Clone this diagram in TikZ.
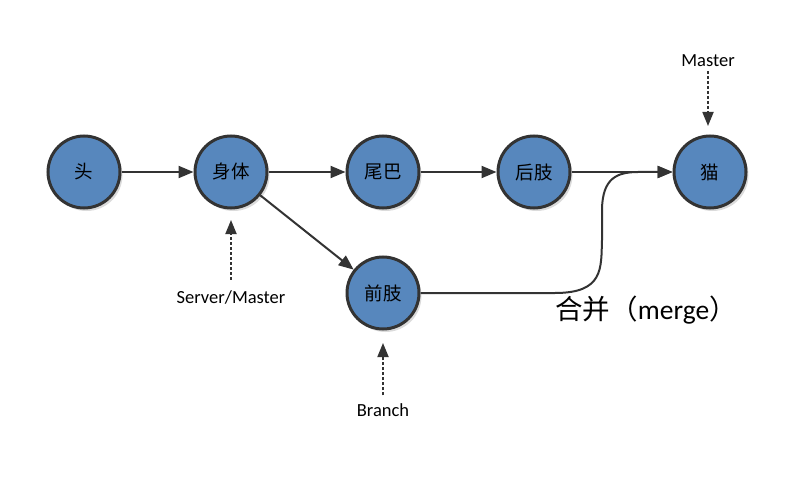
\documentclass[tikz,border=0pt]{standalone}
\usepackage{fontspec}
\setmainfont{Carlito}
\newfontfamily\cjk{Noto Sans CJK SC}
\usetikzlibrary{arrows.meta,shadows}
\definecolor{nodeblue}{HTML}{5787BD}
\definecolor{edgegray}{HTML}{333333}
\tikzset{
  commit/.style={circle,draw=edgegray,line width=3pt,fill=nodeblue,minimum size=72pt,inner sep=0pt,
    font=\cjk\fontsize{18.5}{18.5}\selectfont,
    drop shadow={shadow xshift=2.5pt,shadow yshift=-3pt,fill=black!20,opacity=0.7}},
  flow/.style={draw=edgegray,line width=2pt,-{Triangle[length=15pt,width=12pt]}},
  pointer/.style={draw=edgegray,line width=1.8pt,dash pattern=on 3pt off 2pt,-{Triangle[length=14pt,width=11pt]}},
  lbl/.style={font=\fontsize{18.5}{18.5}\selectfont,inner sep=0pt}
}
\begin{document}
\begin{tikzpicture}[x=1pt,y=-1pt]
\useasboundingbox (0,0) rectangle (800,481);
\node[commit] (tou) at (84,172) {头};
\node[commit] (shen) at (231,172) {身体};
\node[commit] (wei) at (383,172) {尾巴};
\node[commit] (hou) at (534,172) {后肢};
\node[commit] (mao) at (710,172) {猫};
\node[commit] (qian) at (383,293) {前肢};

\draw[flow] (tou) -- (shen);
\draw[flow] (shen) -- (wei);
\draw[flow] (wei) -- (hou);
\draw[flow] (hou) -- (mao);
\draw[flow] (shen) -- (qian);
\coordinate (m1) at (555,293);
\coordinate (m2) at (638,172);
\draw[flow] (qian.east) -- (m1) .. controls (604,293) and (601,268) .. (602,240)
  -- (602,208) .. controls (603,180) and (615,172) .. (m2) -- (mao.west);

\node[lbl] (lmaster) at (708,61) {Master};
\node[lbl] (lserver) at (231,297) {Server/Master};
\node[lbl] (lbranch) at (383,410) {Branch};
\coordinate (pm) at (708,126);
\coordinate (ps) at (231,220);
\coordinate (pb) at (383,343);
\draw[pointer] (lmaster.south) ++(0,4) -- (pm);
\draw[pointer] (lserver.north) ++(0,-10) -- (ps);
\draw[pointer] (lbranch.north) ++(0,-8) -- (pb);

\node[inner sep=0pt] (merge) at (646,310) {\fontsize{27.5}{27.5}\selectfont{\cjk 合并（}merge{\cjk ）}};
\end{tikzpicture}
\end{document}
